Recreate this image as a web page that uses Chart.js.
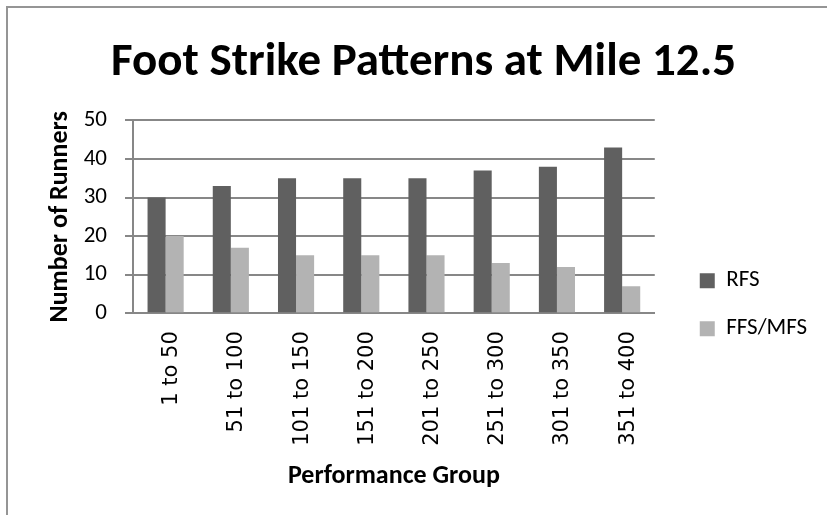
<!DOCTYPE html>
<html>
<head>
<meta charset="utf-8">
<script src="https://cdn.jsdelivr.net/npm/chart.js@4.4.0/dist/chart.umd.min.js"></script>
<style>
  html, body { margin: 0; padding: 0; background: #fff; }
  #frame {
    position: absolute; left: 6px; top: 6px;
    width: 819px; height: 507px;
    border-top: 2px solid #959595; border-left: 2px solid #959595;
  }
  #chart { display: block; }
</style>
</head>
<body>
<div id="frame"><canvas id="chart" width="819" height="507"></canvas></div>
<script>
const groups = ["1 to 50", "51 to 100", "101 to 150", "151 to 200", "201 to 250", "251 to 300", "301 to 350", "351 to 400"];
const rfs = [30, 33, 35, 35, 35, 37, 38, 43];
const ffsMfs = [20, 17, 15, 15, 15, 13, 12, 7];
const yTicks = [0, 10, 20, 30, 40, 50];

const narrow = "Carlito, 'Liberation Sans Narrow', 'DejaVu Sans Condensed', sans-serif";
const gridColor = "#878787";

new Chart(document.getElementById("chart"), {
    type: "bar",
    data: {
        labels: groups,
        datasets: [{
            label: "RFS",
            data: rfs,
            backgroundColor: "#606060",
            categoryPercentage: 0.554,
            barPercentage: 1
        }, {
            label: "FFS/MFS",
            data: ffsMfs,
            backgroundColor: "#b3b3b3",
            categoryPercentage: 0.554,
            barPercentage: 1
        }]
    },
    options: {
        responsive: false,
        animation: false,
        // uneven side padding nudges the centred title to the right
        layout: { padding: { left: 22, right: 10, top: 0, bottom: 0 } },
        plugins: {
            title: {
                display: true,
                text: "Foot Strike Patterns at Mile 12.5",
                color: "#000",
                font: { family: narrow, size: 47, weight: "bold" },
                padding: { top: 27, bottom: 29 }
            },
            legend: {
                position: "right",
                maxWidth: 144,
                title: { display: true, text: "", padding: { top: 0, bottom: 72 } },
                labels: {
                    color: "#000",
                    font: { family: narrow, size: 23 },
                    boxWidth: 15,
                    boxHeight: 15,
                    padding: 25
                }
            },
            tooltip: { enabled: false }
        },
        scales: {
            x: {
                grid: { display: false, drawTicks: false },
                border: { color: gridColor, width: 2 },
                ticks: {
                    color: "#000",
                    font: { family: "'DejaVu Sans', Verdana, sans-serif", size: 21 },
                    minRotation: 90,
                    maxRotation: 90,
                    padding: 18,
                    labelOffset: 6
                },
                title: {
                    display: true,
                    text: "Performance Group",
                    color: "#000",
                    font: { family: narrow, size: 26, weight: "bold" },
                    padding: { top: -3, bottom: 23 }
                }
            },
            y: {
                min: 0,
                max: 50,
                afterBuildTicks: axis => { axis.ticks = yTicks.map(v => ({ value: v })); },
                afterFit: axis => { axis.width = 103; },
                grid: { color: gridColor, lineWidth: 2, tickLength: 8 },
                border: { color: gridColor, width: 2 },
                ticks: {
                    color: "#000",
                    font: { family: narrow, size: 23 },
                    padding: 18
                },
                title: {
                    display: true,
                    text: "Number of Runners",
                    color: "#000",
                    font: { family: narrow, size: 26, weight: "bold" },
                    padding: { top: 15, bottom: 0 }
                }
            },
            gap: {
                type: "linear",
                position: "right",
                grid: { display: false },
                border: { display: false },
                ticks: { display: false },
                afterFit: axis => { axis.width = 20; }
            }
        }
    }
});
</script>
</body>
</html>
